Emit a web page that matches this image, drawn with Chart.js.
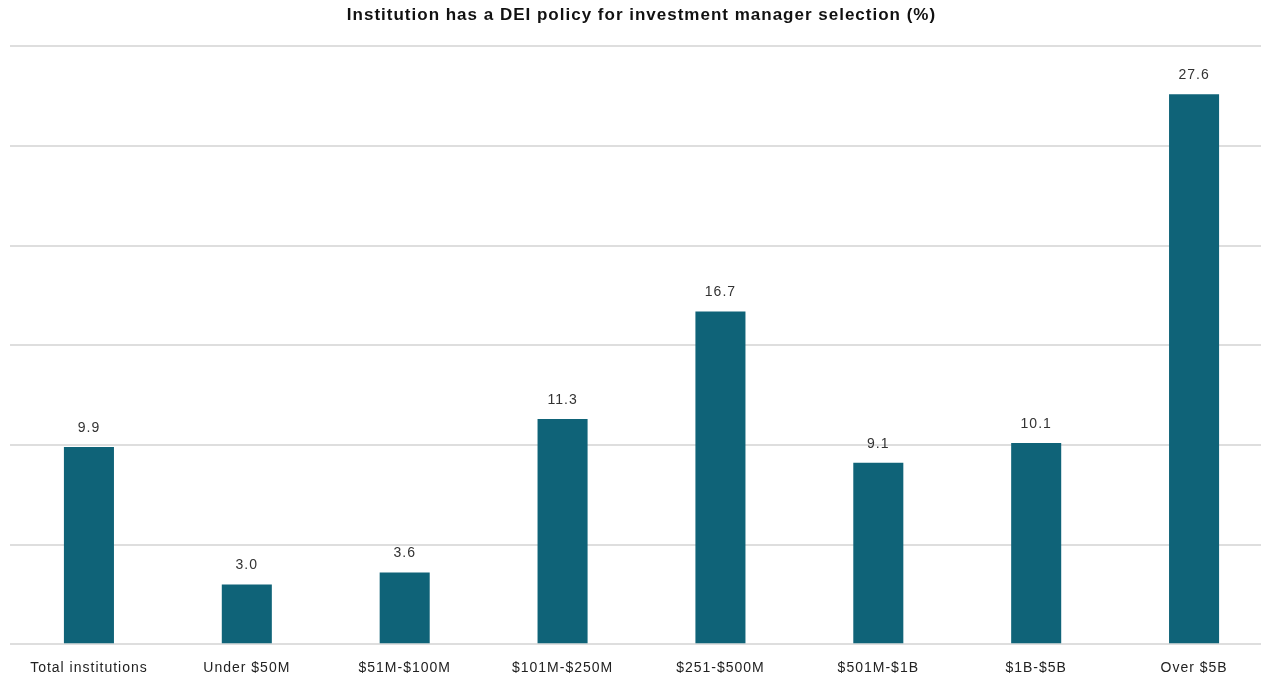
<!DOCTYPE html>
<html>
<head>
<meta charset="utf-8">
<script src="https://cdn.jsdelivr.net/npm/chart.js@4"></script>
<style>
html,body{margin:0;padding:0;background:#fff;overflow:hidden;}
#wrap{width:1261px;height:678px;overflow:hidden;}
</style>
</head>
<body>
<div id="wrap"><canvas id="deiChart" width="1273" height="695"></canvas></div>
<script>
// DEI policy share by institution size

const categories = ["Total institutions","Under $50M","$51M-$100M","$101M-$250M","$251-$500M","$501M-$1B","$1B-$5B","Over $5B"];
const policyShare = [9.9,3.0,3.6,11.3,16.7,9.1,10.1,27.6];
const yTicks = [0,5,10,15,20,25,30];

const FONT = "'Liberation Sans', Arial, sans-serif";

// source image text is a little wider than Arial, so space the letters out
const wideText = {
  id:"wideText",
  beforeDraw(chart){ chart.ctx.letterSpacing = "1px"; }
};

const barLabels = {
  id:"barLabels",
  afterDatasetsDraw(chart){
    const ctx = chart.ctx;
    const meta = chart.getDatasetMeta(0);
    ctx.save();
    ctx.letterSpacing = "1px";
    ctx.font = "14px " + FONT;
    ctx.fillStyle = "#333";
    ctx.textAlign = "center";
    ctx.textBaseline = "bottom";
    meta.data.forEach((bar,i) => {
      ctx.fillText(policyShare[i].toFixed(1), bar.x, bar.y - 12);
    });
    ctx.restore();
  }
};

new Chart(document.getElementById("deiChart"),{
  type:"bar",
  data:{
    labels:categories,
    datasets:[{
      label:"Institution has a DEI policy",
      data:policyShare,
      backgroundColor:"#0f6378",
      barPercentage:0.317,
      categoryPercentage:1
    }]
  },
  options:{
    responsive:false,
    devicePixelRatio:1,
    animation:false,
    layout:{padding:{left:10,right:0,top:0,bottom:2}},
    plugins:{
      legend:{display:false},
      tooltip:{enabled:false},
      title:{
        display:true,
        text:"Institution has a DEI policy for investment manager selection (%)",
        color:"#111",
        font:{family:FONT,size:17,weight:"bold"},
        padding:{top:5,bottom:21}
      }
    },
    scales:{
      x:{
        grid:{display:false,drawTicks:false},
        border:{display:false},
        ticks:{
          color:"#222",
          padding:16,
          maxRotation:0,
          autoSkip:false,
          font:{family:FONT,size:14}
        }
      },
      y:{
        min:0,
        max:30,
        afterBuildTicks(axis){ axis.ticks = yTicks.map(v => ({value:v})); },
        grid:{color:"#dedede",lineWidth:2,drawTicks:false},
        border:{display:false},
        ticks:{display:false}
      }
    }
  },
  plugins:[wideText,barLabels]
});
</script>
</body>
</html>
